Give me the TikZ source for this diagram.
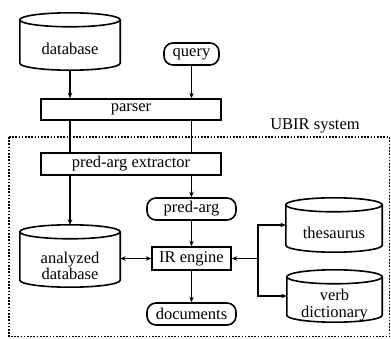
\documentclass[tikz,border=0pt]{standalone}
\usepackage{fontspec}
\setmainfont{Liberation Serif}
\usetikzlibrary{calc,arrows.meta}
\newcommand\cylshape[1]{%
  \draw[line width=1.6pt] let \p1=(#1.north west), \p2=(#1.south east), \n1={(\x2-\x1)/2} in
  (\x1,{\y1-7pt}) -- (\x1,{\y2+7pt})
  arc[start angle=180,end angle=360,x radius={\n1*1pt},y radius=7pt]
  -- (\x2,{\y1-7pt})
  arc[start angle=0,end angle=180,x radius={\n1*1pt},y radius=7pt]
  arc[start angle=180,end angle=360,x radius={\n1*1pt},y radius=7pt];}
\begin{document}
\begin{tikzpicture}[x=1pt,y=-1pt,
  every node/.style={font=\fontsize{16.5}{16.5}\selectfont, inner sep=0pt, align=center},
  box/.style={draw, line width=1.6pt, rectangle},
  rbox/.style={draw, line width=1.6pt, rounded corners=9pt},
  conn/.style={line width=1.5pt},
  tip/.tip={Stealth[length=5.5pt,width=4.5pt]},
  arr/.style={conn, -tip},
]
\useasboundingbox (0,0) rectangle (391,339);

% system boundary
\draw[line width=1.5pt, dash pattern=on 1.6pt off 1.6pt] (9,137) rectangle (389.5,336.5);
\node (ubir) at (315,126) {UBIR system};

% top inputs
\node[minimum width=100pt, minimum height=57pt] (db) at (70,41.5) {};
\cylshape{db}
\node (dbt) at (70,49) {database};
\node[rbox, minimum width=55pt, minimum height=22pt] (query) at (191.5,54) {query};

\node[box, minimum width=180pt, minimum height=21pt] (parser) at (131,109.5) {parser};
\node[box, minimum width=180pt, minimum height=22pt] (ext) at (131,164) {pred-arg extractor};

\node[minimum width=100pt, minimum height=62pt] (adb) at (70,256) {};
\cylshape{adb}
\node (adbt) at (70,266) {analyzed\\database};

\node[rbox, minimum width=89pt, minimum height=22pt] (pa) at (191.5,209) {pred-arg};
\node[box, minimum width=79pt, minimum height=23pt] (ir) at (191.5,258.5) {IR engine};
\node[rbox, minimum width=89pt, minimum height=22pt] (docs) at (191.5,314) {documents};

\node[minimum width=96pt, minimum height=54pt] (th) at (334,225) {};
\cylshape{th}
\node (tht) at (334,233) {thesaurus};
\node[minimum width=95pt, minimum height=52pt] (vd) at (334.5,296) {};
\cylshape{vd}
\node (vdt) at (334.5,305) {verb\\dictionary};

% connectors
\draw[arr] (db.south) -- (db.south |- parser.north);
\draw[arr] (query.south) -- (parser.north -| query.south);
\draw[conn] (parser.south -| db.south) -- (ext.north -| db.south);
\draw[conn] (parser.south -| query.south) -- (ext.north -| query.south);
\draw[arr] (ext.south -| adb.north) -- (adb.north);
\draw[arr] (ext.south -| pa.north) -- (pa.north);
\draw[arr] (pa.south) -- (ir.north);
\draw[arr] (ir.south) -- (docs.north);
\draw[conn, tip-tip] (ir.west -| adb.east) -- (ir.west);
\coordinate (j) at (258,258.5);
\draw[arr] (j) -- (ir.east);
\draw[arr] (j) |- (th.west);
\draw[arr] (j) |- (vd.west);
\end{tikzpicture}
\end{document}
